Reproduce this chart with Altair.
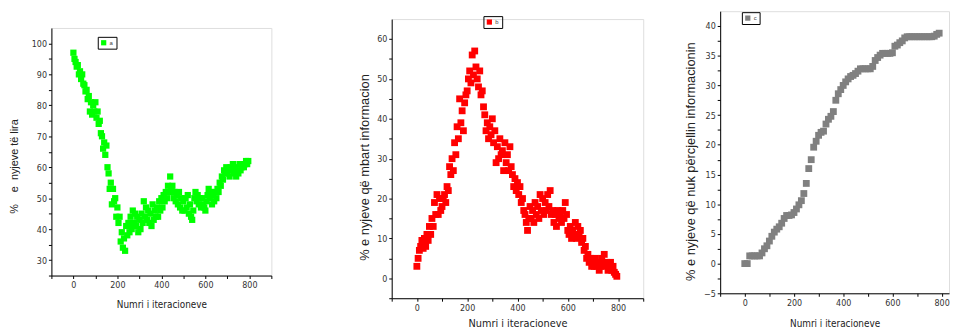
import altair as alt
import pandas as pd

# iteration index (x)
iters_ab = list(range(0, 800, 5))
iters_c = list(range(0, 800, 10))

# (a) % e nyjeve të lira  (one row = 50 iterations)
a_vals = [97, 95, 94, 92.5, 93, 90, 91, 88.5, 90, 87,
          86.5, 84.5, 85, 82, 83, 78, 81, 77, 80, 78,
          81, 76, 78, 74, 75, 71, 70, 66, 68, 64,
          67, 60, 58, 53, 55, 48, 53, 49, 50, 44,
          47, 42, 44, 36, 39, 34, 37, 33, 41, 38,
          42, 39, 44, 40, 46, 42, 45, 41, 44, 39,
          43, 40, 45, 42, 49, 44, 47, 43, 46, 42,
          45, 41, 48, 43, 46, 44, 47, 44, 49, 46,
          50, 47, 51, 49, 52, 50, 54, 52, 57, 53,
          54, 50, 52, 49, 51, 48, 52, 47, 50, 46,
          49, 46, 50, 47, 51, 45, 48, 44, 43, 46,
          50, 52, 49, 51, 48, 50, 47, 50, 48, 47,
          46, 49, 51, 53, 50, 52, 48, 51, 49, 52,
          50, 53, 52, 55, 54, 57, 56, 59, 58, 60,
          58, 59, 57, 60, 59, 61, 58, 60, 57, 59,
          58, 61, 59, 60, 61, 60, 61, 62, 61, 62]

# (b) % e nyjeve që mbart informacion
b_vals = [3, 5, 7, 8, 9.5, 7.5, 10, 8, 11, 9.5,
          13, 11, 15, 13, 19, 16, 21, 16, 20, 17,
          18, 20, 21, 19, 23, 22, 28, 26, 30, 27,
          34, 31, 38, 35, 45, 39, 42, 37, 44, 46,
          47, 50, 52, 49, 56, 51, 57, 53, 50, 48,
          52, 46, 47, 43, 41, 37, 39, 35, 38, 36,
          40, 34, 37, 29, 33, 30, 35, 31, 32, 27,
          34, 29, 31, 27, 33, 28, 26, 23, 25, 22,
          24, 21, 23, 19, 20, 17, 16, 14, 12, 15,
          18, 15, 17, 14, 19, 16, 18, 15, 21, 17,
          20, 16, 19, 17, 21, 18, 22, 16, 17, 14,
          16, 13, 17, 15, 16, 14, 17, 15, 19, 16,
          12, 11, 13, 10, 12, 11, 14, 10, 13, 11,
          12, 9, 10, 7, 8, 5, 6, 4, 5, 3,
          4, 3, 5, 3, 4, 2, 3, 5, 4, 6,
          3, 4, 2, 3, 4, 2, 3, 1.5, 1, 0.5]

# (c) % e nyjeve që nuk përcjellin informacionin  (one row = 100 iterations)
c_vals = [0, 0, 1.3, 1.3, 1.3, 1.3, 1.3, 1.8, 2.5, 3.0,
          3.8, 4.6, 5.3, 5.8, 6.2, 6.8, 7.6, 8.1, 8.1, 8.2,
          8.6, 9.2, 9.9, 10.6, 11.8, 13.5, 16, 17.5, 19.6, 20.6,
          21.6, 22.1, 22.3, 23.5, 24.3, 24.8, 25.6, 27.5, 28.6, 29.3,
          30, 30.6, 31.1, 31.5, 31.7, 32, 32.4, 32.8, 32.8, 32.8,
          32.8, 32.8, 33.2, 34.2, 34.7, 35.1, 35.4, 35.4, 35.4, 35.4,
          35.5, 36.6, 36.8, 37.2, 37.5, 38, 38.2, 38.2, 38.2, 38.2,
          38.2, 38.2, 38.2, 38.2, 38.2, 38.2, 38.2, 38.3, 38.6, 38.8]

x_title = "Numri i iteracioneve"
ya_title = "%\u00a0\u00a0\u00a0\u00a0e\u00a0\u00a0nyjeve të lira"
yb_title = "% e nyjeve që mbart informacion"
yc_title = "% e nyjeve që nuk përcjellin informacionin"

NARROW = "Liberation Sans Narrow, DejaVu Sans Condensed, Arial Narrow, sans-serif"
SANS = "Liberation Sans, Arial, sans-serif"


def panel(xs, vals, color, letter, xdom, xticks, ydom, yticks, ymod, ytitle,
          ytsize, ytpad, yty, xtsize, xtpad, w, h, msize, legx, legy, top):
    df = pd.DataFrame({"x": xs, "y": vals, "s": letter})
    xaxis = alt.Axis(values=xticks,
                     labelExpr="datum.value % 200 == 0 ? datum.label : ''",
                     title=x_title, titleFont=NARROW, titleFontSize=xtsize,
                     titleFontWeight="normal", titleColor="#222",
                     titlePadding=xtpad, grid=False, tickSize=3,
                     domainColor="black", tickColor="black",
                     labelFont=NARROW, labelFontSize=9, labelColor="#333",
                     labelPadding=2, labelFlush=False)
    yaxis = alt.Axis(values=yticks,
                     labelExpr="datum.value % " + str(ymod) + " == 0 ? datum.label : ''",
                     title=ytitle, titleFont=SANS, titleFontSize=ytsize,
                     titleFontWeight="normal", titleColor="#222",
                     titlePadding=ytpad, titleY=yty, grid=False, tickSize=3,
                     domainColor="black", tickColor="black",
                     labelFont=NARROW, labelFontSize=9, labelColor="#333",
                     labelPadding=2, labelFlush=False)
    legend = alt.Legend(orient="none", legendX=legx, legendY=legy, title=None,
                        strokeColor="black", padding=3, symbolType="square",
                        symbolSize=28, symbolStrokeWidth=0, labelFontSize=6,
                        labelFont=SANS, labelOffset=3, labelColor="#444")
    ch = alt.Chart(df).mark_square(size=msize, opacity=1).encode(
        x=alt.X("x:Q", scale=alt.Scale(domain=xdom, nice=False, zero=False), axis=xaxis),
        y=alt.Y("y:Q", scale=alt.Scale(domain=ydom, nice=False, zero=False), axis=yaxis),
        color=alt.Color("s:N", scale=alt.Scale(domain=[letter], range=[color]), legend=legend),
    ).properties(width=w, height=h)
    if top > 0:
        spacer = alt.Chart(pd.DataFrame({"v": [0]})).mark_point(opacity=0).properties(
            width=1, height=top)
        return alt.vconcat(spacer, ch, spacing=0)
    return ch


xt = list(range(-100, 901, 100))
pa = panel(iters_ab, a_vals, "#00ff00", "a", [-100, 900], xt, [25, 105],
           [25 + 5 * i for i in range(16)], 10, ya_title,
           11, 12, 140, 10, 10, 223, 251, 40, 47, 26, 16)
pb = panel(iters_ab, b_vals, "#ff0000", "b", [-100, 900], xt, [-5, 65],
           [-5 + 5 * i for i in range(14)], 10, yb_title,
           13, 5, 150, 11, 6, 255, 283, 48, 93, 5, 7)
pc = panel(iters_c, c_vals, "#808080", "c", [-100, 830], list(range(-100, 801, 100)),
           [-5, 42.5], [-5 + 2.5 * i for i in range(19)], 5, yc_title,
           13, 6, 152, 10, 12, 232, 286, 48, 22, 1, 0)

inner = alt.hconcat(pa, pb, spacing=87).resolve_scale(color="independent")
chart = alt.hconcat(inner, pc, spacing=40).resolve_scale(color="independent").properties(
    padding={"left": 0, "right": 0, "top": 0, "bottom": 0}
).configure_view(stroke=None).configure(background="white")

chart.save("out.html", embed_options={"renderer": "svg", "actions": False})
